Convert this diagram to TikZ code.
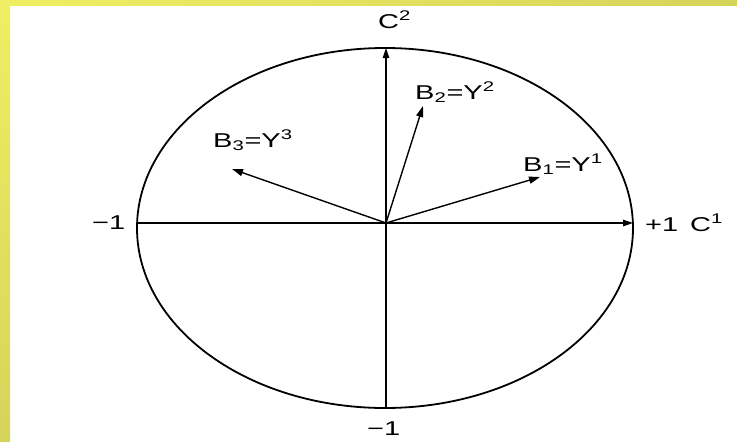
\documentclass[tikz,border=0pt]{standalone}
\usepackage{fontspec}
\setmainfont{Liberation Sans}
\usetikzlibrary{arrows.meta}
\definecolor{ylight}{RGB}{240,238,98}
\definecolor{ydark}{RGB}{213,212,90}
\newcommand\hstretch[1]{\scalebox{1.45}[1]{#1}}
\begin{document}
\begin{tikzpicture}[x=1pt,y=-1pt,
  axis/.style={line width=1.2pt,-{Triangle[length=10pt,width=6.5pt]}},
  vec/.style={line width=1.4pt,-{Triangle[length=11pt,width=7pt]}},
  lbl/.style={inner sep=0pt,anchor=base west,font=\fontsize{20}{23}\selectfont}]
\useasboundingbox (0,0) rectangle (737,442);
\fill[white] (0,0) rectangle (737,442);
\shade[left color=ylight,right color=ydark] (0,0) rectangle (737,5);
\shade[top color=ylight,bottom color=ydark] (0,0) rectangle (10,442);
% circle (stretched)
\draw[line width=1.8pt] (385,228) ellipse [x radius=248pt, y radius=180pt];
% coordinates
\coordinate (O) at (386,223);
\coordinate (L) at (137,223);
\coordinate (R) at (633,223);
\coordinate (B) at (386,408);
\coordinate (T) at (386,48);
\coordinate (b1) at (540,177);
\coordinate (b2) at (423,106);
\coordinate (b3) at (232,169);
% axes
\draw[axis] (L) -- (R);
\draw[axis] (B) -- (T);
% vectors
\draw[vec] (O) -- (b1);
\draw[vec] (O) -- (b2);
\draw[vec] (O) -- (b3);
% labels
\node[lbl] (c2) at (378,28) {\hstretch{C\textsuperscript{2}}};
\node[lbl] (l3) at (213,147) {\hstretch{B\textsubscript{3}=Y\textsuperscript{3}}};
\node[lbl] (l2) at (415,99) {\hstretch{B\textsubscript{2}=Y\textsuperscript{2}}};
\node[lbl] (l1) at (523,171) {\hstretch{B\textsubscript{1}=Y\textsuperscript{1}}};
\node[lbl] (p1) at (645,231) {\hstretch{+1}};
\node[lbl] (c1) at (690,231) {\hstretch{C\textsuperscript{1}}};
\node[lbl] (m1l) at (92,229) {\hstretch{−1}};
\node[lbl] (m1b) at (367,435) {\hstretch{−1}};
\end{tikzpicture}
\end{document}
